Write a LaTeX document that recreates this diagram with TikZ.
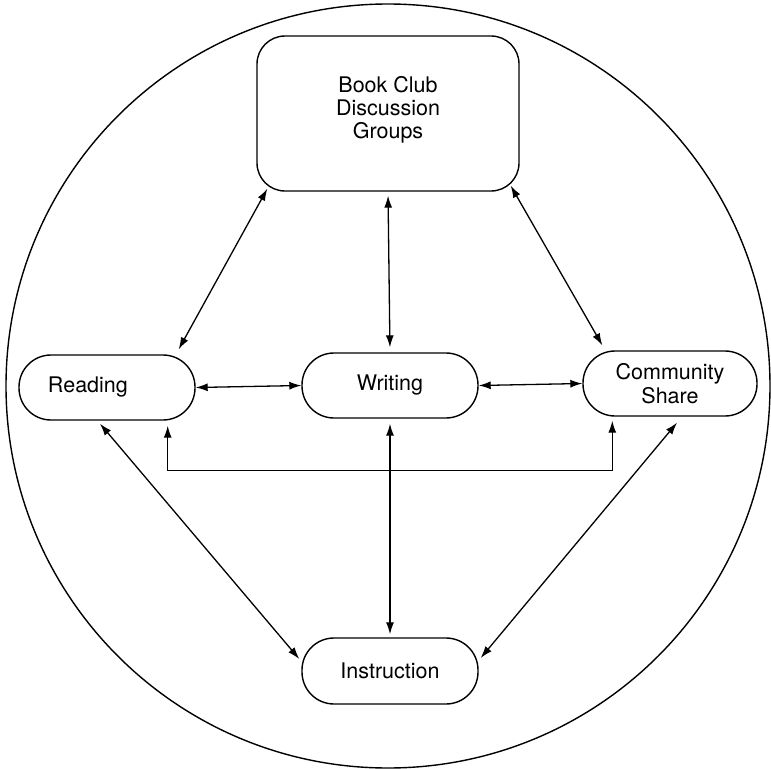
\documentclass[tikz,border=0pt]{standalone}
\usepackage{fontspec}
\setmainfont{TeX Gyre Heros}
\usetikzlibrary{arrows.meta,calc}
\begin{document}
\begin{tikzpicture}[x=1bp,y=-1bp,
  box/.style={draw, line width=1.4bp, rounded corners=32bp,
    minimum width=176bp, minimum height=65bp, inner sep=0pt,
    font=\fontsize{21.5bp}{23bp}\selectfont, align=center},
  link/.style={line width=1.3bp,
    {Latex[length=12bp,width=8bp]}-{Latex[length=12bp,width=8bp]}}]
\useasboundingbox (0,0) rectangle (771,769);

% enclosing circle
\draw[line width=1.4bp] (388,386) circle[radius=382];

% activity boxes
\node[box, minimum width=262bp, minimum height=155bp, rounded corners=28bp,
      text depth=12.4bp] (book) at (388,113.5) {Book Club\\Discussion\\Groups};
\node[box, text width=118bp, inner xsep=29bp, align=left] (reading) at (107,387.5) {Reading};
\node[box] (writing) at (390,385.5) {Writing};
\node[box, minimum width=174bp, font=\fontsize{21.5bp}{24bp}\selectfont] (comm) at (670,383.5) {Community\\Share};
\node[box, minimum height=66bp] (instr) at (390,671) {Instruction};

% connections
\draw[link] ($(book.south west)+(11,-3)$) -- ($(reading.north east)+(-17,-5)$);
\draw[link, shorten <=4bp, shorten >=5bp] (book.south) -- (writing.north);
\draw[link] ($(book.south east)+(-9,-6)$) -- ($(comm.north west)+(20,-5)$);
\draw[link] (reading.east) -- (writing.west);
\draw[link] (writing.east) -- (comm.west);
\draw[link] ([xshift=-28bp,yshift=-5bp]reading.south east) -- ++(0,45)
  -| ([xshift=30bp,yshift=-4bp]comm.south west);
\draw[link, shorten <=5bp, shorten >=3bp] (writing.south) -- (instr.north);
\draw[link] ($(reading.south)+(-7,3)$) -- ($(instr.west)+(-2,-12)$);
\draw[link] ($(comm.south)+(7,6)$) -- ($(instr.east)+(2,-13)$);
\end{tikzpicture}
\end{document}
